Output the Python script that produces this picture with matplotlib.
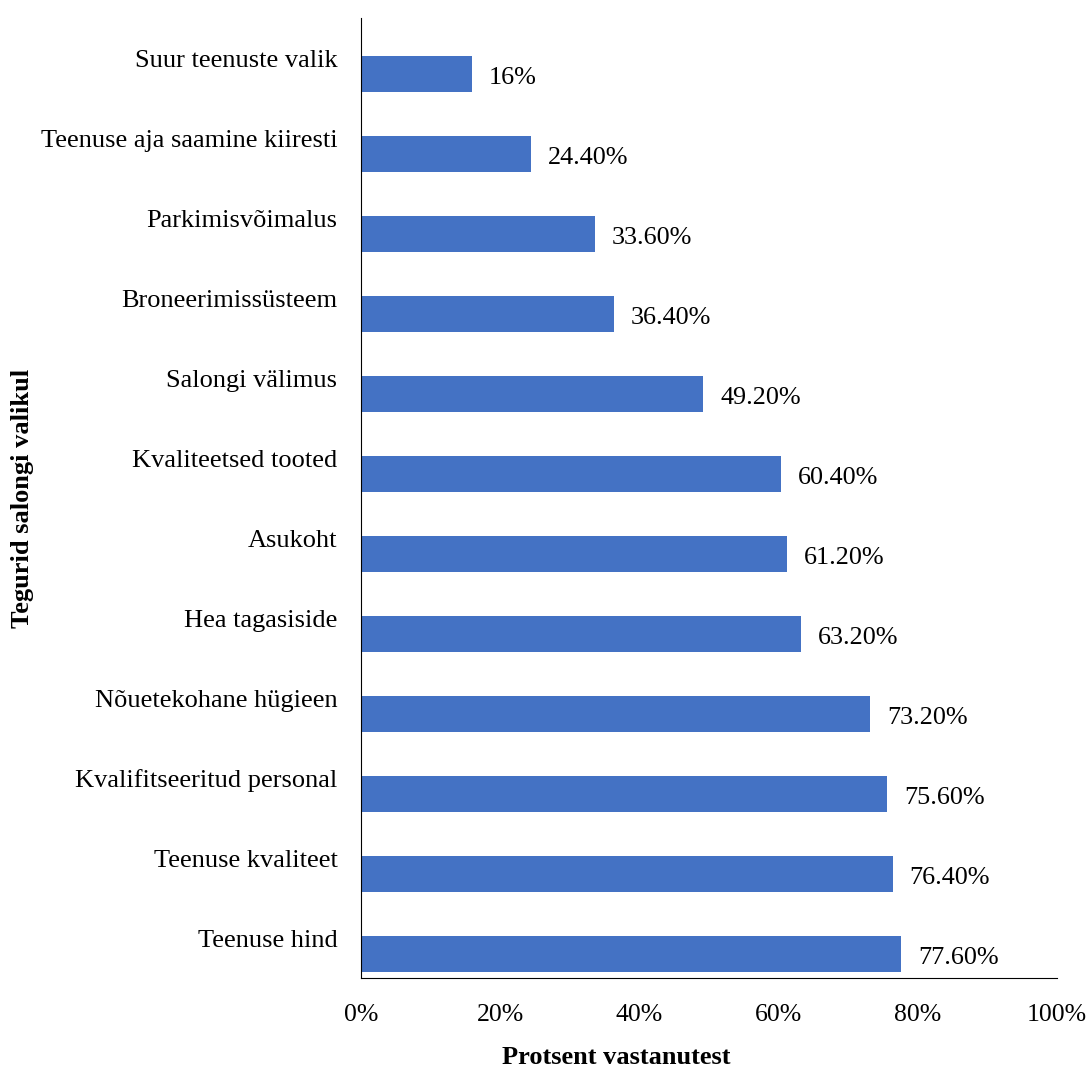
import matplotlib.pyplot as plt
import numpy as np

categories = ["Suur teenuste valik", "Teenuse aja saamine kiiresti", "Parkimisvõimalus",
              "Broneerimissüsteem", "Salongi välimus", "Kvaliteetsed tooted", "Asukoht",
              "Hea tagasiside", "Nõuetekohane hügieen", "Kvalifitseeritud personal",
              "Teenuse kvaliteet", "Teenuse hind"]
values = [16, 24.4, 33.6, 36.4, 49.2, 60.4, 61.2, 63.2, 73.2, 75.6, 76.4, 77.6]
value_labels = ["16%", "24.40%", "33.60%", "36.40%", "49.20%", "60.40%", "61.20%",
                "63.20%", "73.20%", "75.60%", "76.40%", "77.60%"]
xticks = [0, 20, 40, 60, 80, 100]

plt.rcParams['font.family'] = ['Liberation Serif', 'DejaVu Serif']

fig = plt.figure(figsize=(10.88, 10.68), dpi=100)
ax = fig.add_axes([361/1088, 1 - 978/1068, (1057-361)/1088, (978-18)/1068])

y = np.arange(len(categories))
ax.barh(y + 0.2, values, height=0.45, color='#4472C4')
for yi, v, lab in zip(y, values, value_labels):
    ax.text(v + 2.4, yi + 0.25, lab, va='center', ha='left', fontsize=18.8)

ax.set_ylim(len(categories) - 0.5, -0.5)
ax.set_xlim(0, 100)
ax.set_yticks(y)
ax.set_yticklabels(categories, fontsize=19)
ax.set_xticks(xticks)
ax.set_xticklabels([f"{t}%" for t in xticks], fontsize=18.5)
ax.tick_params(axis='both', length=0)
ax.tick_params(axis='y', pad=17)
ax.tick_params(axis='x', pad=19)

for s in ['top', 'right']:
    ax.spines[s].set_visible(False)
ax.spines['left'].set_color('black')
ax.spines['bottom'].set_color('black')

ax.set_xlabel("Protsent vastanutest", fontsize=19, fontweight='bold')
ax.xaxis.set_label_coords((616 - 361) / 696, -(1046 - 978) / 960)
ax.set_ylabel("Tegurid salongi valikul", fontsize=19, fontweight='bold')
ax.yaxis.set_label_coords(-(361 - 34) / 696, 0.5)

fig.savefig("out.png", dpi=100)
